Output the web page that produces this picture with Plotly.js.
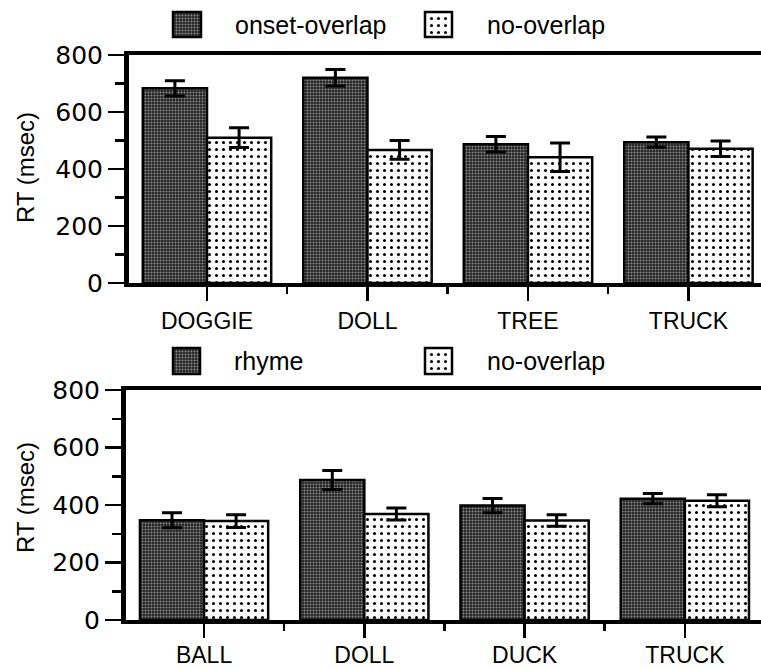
<!DOCTYPE html>
<html><head><meta charset="utf-8">
<script src="https://cdn.plot.ly/plotly-3.0.1.min.js"></script>
<style>html,body{margin:0;padding:0;background:#fff;overflow:hidden}</style>
</head><body><div id="chart" style="width:761px;height:669px"></div>
<script>
// ---- data ----
const topCategories = ['DOGGIE', 'DOLL', 'TREE', 'TRUCK'];
const topOnset = [683, 720, 487, 494];
const topOnsetErr = [27, 29, 27, 18];
const topNoOverlap = [510, 467, 441, 471];
const topNoOverlapErr = [35, 33, 50, 27];

const bottomCategories = ['BALL', 'DOLL', 'DUCK', 'TRUCK'];
const bottomRhyme = [347, 487, 398, 422];
const bottomRhymeErr = [26, 33, 25, 18];
const bottomNoOverlap = [344, 369, 346, 415];
const bottomNoOverlapErr = [22, 21, 20, 21];

const yTickVals = [0, 200, 400, 600, 800];
const yMinorVals = [100, 300, 500, 700];
const topLegendLabels = ['onset-overlap', 'no-overlap'];
const bottomLegendLabels = ['rhyme', 'no-overlap'];
const yTitle = 'RT (msec)';

// ---- layout helpers ----
const W = 761, H = 669;
const fx = p => p / W;
const fy = p => 1 - p / H;
const idx = arr => arr.map((_, i) => i);

const darkPattern = {shape: '.', bgcolor: '#242424', fgcolor: '#8c8c8c', size: 3, solidity: 0.35, fillmode: 'replace'};
const dotPattern = {shape: '.', bgcolor: '#ffffff', fgcolor: '#000000', size: 7, solidity: 0.15, fillmode: 'replace'};
const outline = {color: '#000', width: 2.5};
const err = a => ({type: 'data', array: a, visible: true, color: '#000', thickness: 3, width: 10});

function barTrace(xa, ya, cats, vals, errs, pattern, name) {
  return {type: 'bar', x: idx(cats), y: vals, name: name, xaxis: xa, yaxis: ya,
    marker: {color: pattern.bgcolor, pattern: pattern, line: outline},
    error_y: err(errs), showlegend: false, hoverinfo: 'skip'};
}

const traces = [
  barTrace('x', 'y', topCategories, topOnset, topOnsetErr, darkPattern, topLegendLabels[0]),
  barTrace('x', 'y', topCategories, topNoOverlap, topNoOverlapErr, dotPattern, topLegendLabels[1]),
  barTrace('x2', 'y2', bottomCategories, bottomRhyme, bottomRhymeErr, darkPattern, bottomLegendLabels[0]),
  barTrace('x2', 'y2', bottomCategories, bottomNoOverlap, bottomNoOverlapErr, dotPattern, bottomLegendLabels[1]),
];

const xFont = {family: 'Liberation Sans, Arial, sans-serif', size: 23, color: '#000'};
const yFont = {family: 'DejaVu Sans, sans-serif', size: 25, color: '#000'};

function xAxis(cats, dom, rng, anchor, standoff) {
  return {domain: dom, range: rng, anchor: anchor, showline: true, linewidth: 4, linecolor: '#000', mirror: true,
    ticks: 'outside', tickvals: idx(cats), ticktext: cats, ticklen: 14, tickwidth: 2.5, tickcolor: '#000',
    ticklabelstandoff: standoff,
    minor: {tickvals: cats.slice(1).map((_, i) => i + 0.5), ticks: 'outside', ticklen: 7, tickwidth: 2.5, tickcolor: '#000'},
    tickfont: xFont, showgrid: false, zeroline: false, fixedrange: true};
}
function yAxis(dom, anchor) {
  return {domain: dom, range: [0, 800], anchor: anchor, showline: true, linewidth: 5, linecolor: '#000',
    ticks: 'outside', tickvals: yTickVals, ticklen: 16, tickwidth: 2.5, tickcolor: '#000',
    minor: {tickvals: yMinorVals, ticks: 'outside', ticklen: 9, tickwidth: 2.5, tickcolor: '#000'},
    tickfont: yFont, showgrid: false, zeroline: false, fixedrange: true};
}

const layout = {
  width: W, height: H, margin: {l: 0, r: 0, t: 0, b: 0}, paper_bgcolor: '#fff', plot_bgcolor: '#fff',
  barmode: 'group', bargap: 0.2, bargroupgap: 0, showlegend: false,
  xaxis: xAxis(topCategories, [fx(129), 1], [-0.486, 3.452], 'y', 0),
  yaxis: yAxis([fy(283), fy(55)], 'x'),
  xaxis2: xAxis(bottomCategories, [fx(126), 1], [-0.487, 3.475], 'y2', -3),
  yaxis2: yAxis([fy(620), fy(390)], 'x2'),
  annotations: [],
};

// y titles
[168, 498].forEach(cy => {
  layout.annotations.push({text: yTitle, xref: 'paper', yref: 'paper', x: fx(25), y: fy(cy), textangle: -90,
    showarrow: false, xanchor: 'center', yanchor: 'middle', font: {family: 'Liberation Sans, Arial, sans-serif', size: 24, color: '#000'}});
});

// legend swatches as mini subplots
const swatches = [
  {box: [173, 201, 12, 37], pattern: darkPattern, label: topLegendLabels[0], tx: 233},
  {box: [425, 452, 12, 37], pattern: dotPattern, label: topLegendLabels[1], tx: 485},
  {box: [173, 200, 348, 374], pattern: darkPattern, label: bottomLegendLabels[0], tx: 232},
  {box: [425, 452, 348, 374], pattern: dotPattern, label: bottomLegendLabels[1], tx: 485},
];
swatches.forEach((s, i) => {
  const n = i + 3;
  const [a, b, c, d] = s.box;
  const pad = 4;
  const hw = 0.5 * (b - a + 2 * pad) / (b - a);
  const py = pad / (d - c);
  layout['xaxis' + n] = {domain: [fx(a - pad), fx(b + pad)], range: [-hw, hw], visible: false, fixedrange: true, anchor: 'y' + n};
  layout['yaxis' + n] = {domain: [fy(d + pad), fy(c - pad)], range: [-py, 1 + py], visible: false, fixedrange: true, anchor: 'x' + n};
  traces.push({type: 'bar', x: [0], y: [1], width: [1], xaxis: 'x' + n, yaxis: 'y' + n,
    marker: {color: s.pattern.bgcolor, pattern: s.pattern, line: outline}, showlegend: false, hoverinfo: 'skip'});
  layout.annotations.push({text: s.label, xref: 'paper', yref: 'paper', x: fx(s.tx), y: fy((c + d) / 2),
    xanchor: 'left', yanchor: 'middle', showarrow: false, font: {family: 'Liberation Sans, Arial, sans-serif', size: 25, color: '#000'}});
});

Plotly.newPlot('chart', traces, layout, {staticPlot: true, displayModeBar: false});
</script>
</body></html>
